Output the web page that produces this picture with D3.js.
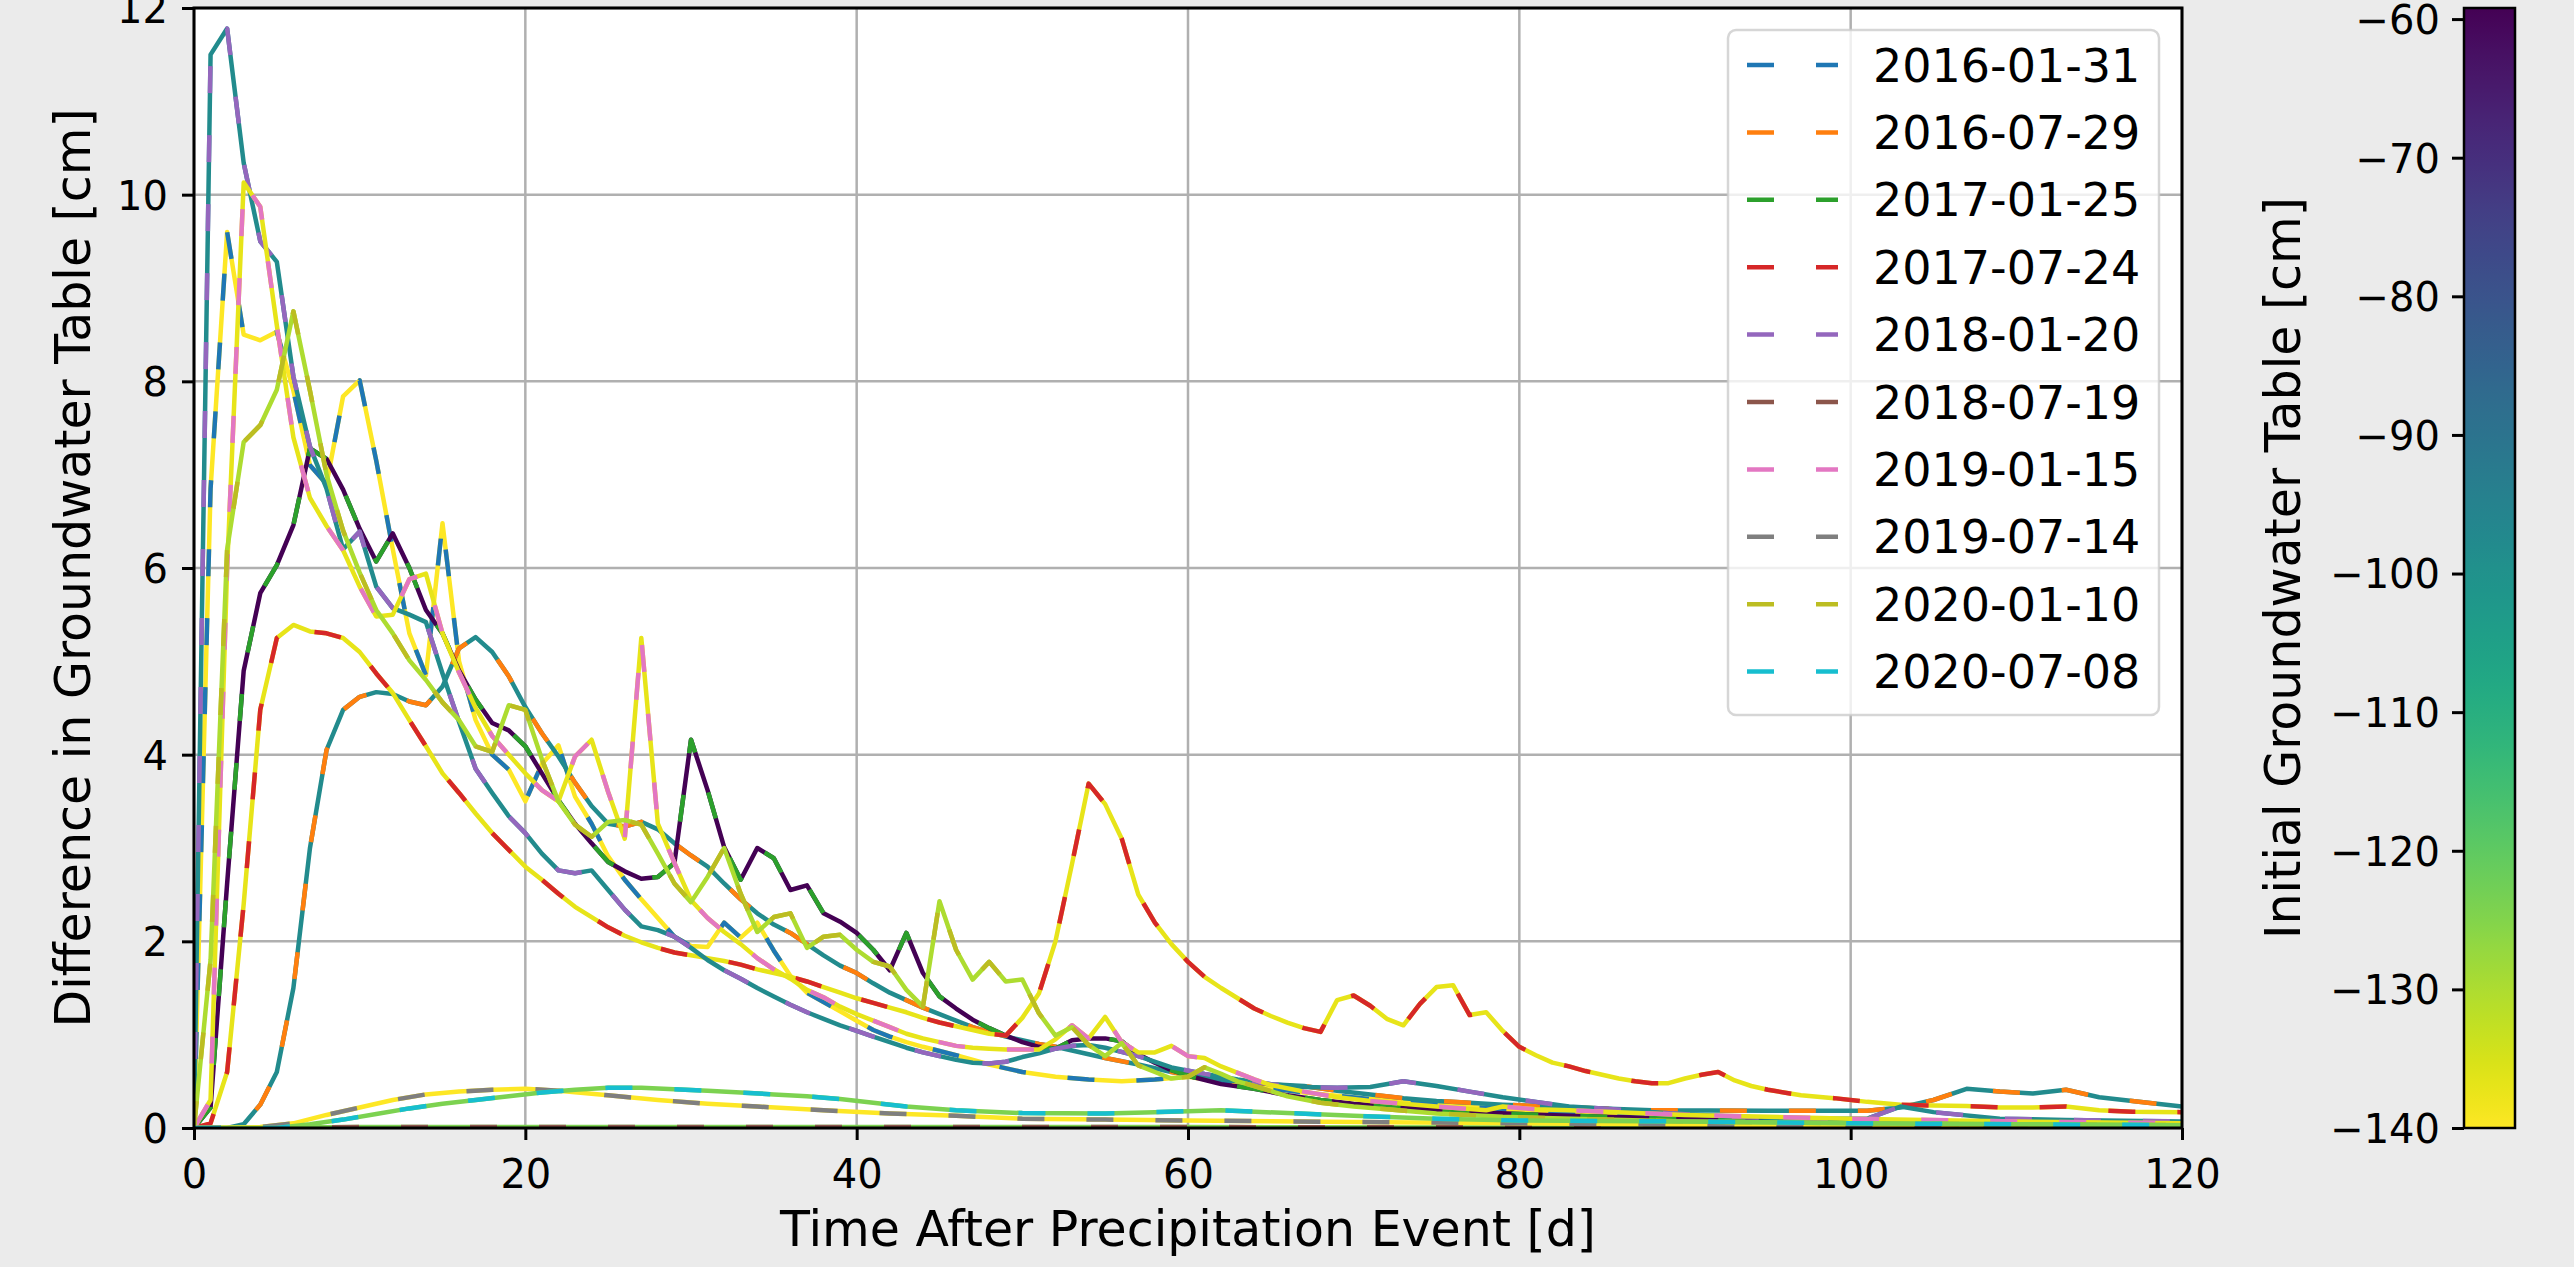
<!DOCTYPE html>
<html>
<head>
<meta charset="utf-8">
<script src="https://cdn.jsdelivr.net/npm/d3@7"></script>
<style>
  html, body { margin: 0; padding: 0; background: #ebebeb; }
  #chart { width: 2574px; height: 1267px; }
  text { font-family: "DejaVu Sans", sans-serif; fill: #000; }
</style>
</head>
<body>
<div id="chart"></div>
<script>
// event labels (legend) and the initial groundwater table of each event [cm]
const eventDates = ['2016-01-31', '2016-07-29', '2017-01-25', '2017-07-24', '2018-01-20',
                    '2018-07-19', '2019-01-15', '2019-07-14', '2020-01-10', '2020-07-08']
const initialTable = [-140, -98, -59.2, -137, -98, -124, -137, -140, -130, -124]

// [day, difference in groundwater table cm]
const ev20160131 = [[0,0],[1,6.85],[2,9.6],[3,8.5],[4,8.44],[5,8.53],[6,7.9],[7,7.1],[8,6.9],[9,7.84],[10,8.01],[11,7.15],[12,6.2],[13,5.3],[14,4.85],[15,6.48],[16,5.0],[17,4.37],[18,4.0],[19,3.84],[20,3.5],[21,3.9],[22,4.1],[23,3.55],[24,3.26],[25,2.91],[26,2.66],[27,2.45],[28,2.25],[29,2.05],[30,1.95],[31,1.94],[32,2.2],[33,2.04],[34,2.2],[35,1.9],[36,1.63],[37,1.45],[38,1.35],[39,1.25],[40,1.15],[41,1.05],[42,0.98],[43,0.92],[44,0.87],[46,0.78],[48,0.68],[50,0.6],[52,0.55],[54,0.52],[56,0.5],[58,0.52],[60,0.55],[63,0.47],[67,0.38],[71,0.31],[75,0.25],[80,0.19],[85,0.15],[90,0.12],[100,0.08],[110,0.06],[120,0.045]]
const ev20160729 = [[0,0],[1,0],[2,0],[3,0.04],[4,0.25],[5,0.6],[6,1.5],[7,3.0],[8,4.05],[9,4.48],[10,4.62],[11,4.67],[12,4.65],[13,4.57],[14,4.53],[15,4.73],[16,5.14],[17,5.26],[18,5.1],[19,4.84],[20,4.51],[21,4.23],[22,3.98],[23,3.7],[24,3.45],[25,3.26],[26,3.23],[27,3.28],[28,3.2],[29,3.05],[30,2.92],[31,2.8],[32,2.62],[33,2.45],[34,2.3],[35,2.18],[36,2.09],[37,1.97],[38,1.85],[39,1.74],[40,1.66],[41,1.55],[42,1.45],[43,1.37],[44,1.29],[45,1.22],[46,1.15],[47,1.08],[48,1.03],[49,0.98],[50,0.94],[51,0.9],[52,0.87],[53,0.83],[54,0.79],[55,0.75],[57,0.68],[59,0.6],[61,0.54],[63,0.5],[65,0.47],[67,0.45],[69,0.4],[71,0.36],[73,0.32],[75,0.29],[77,0.27],[79,0.25],[82,0.23],[85,0.21],[88,0.19],[95,0.185],[101,0.185],[103,0.22],[105,0.3],[107,0.42],[109,0.39],[111,0.37],[113,0.41],[115,0.33],[117,0.29],[120,0.23]]
const ev20170125 = [[0,0],[1,0.22],[2,2.62],[3,4.9],[4,5.73],[5,6.03],[6,6.46],[7,7.28],[8,7.17],[9,6.84],[10,6.42],[11,6.07],[12,6.37],[13,6.0],[14,5.55],[15,5.3],[16,4.9],[17,4.59],[18,4.34],[19,4.26],[20,4.09],[21,3.8],[22,3.51],[23,3.26],[24,3.05],[25,2.85],[26,2.75],[27,2.67],[28,2.69],[29,2.84],[30,4.16],[31,3.62],[32,3.01],[33,2.66],[34,3.0],[35,2.89],[36,2.55],[37,2.6],[38,2.3],[39,2.21],[40,2.09],[41,1.91],[42,1.69],[43,2.09],[44,1.66],[45,1.41],[46,1.28],[47,1.16],[48,1.07],[49,0.99],[50,0.92],[51,0.87],[52,0.85],[53,0.94],[54,0.96],[55,0.96],[56,0.93],[57,0.79],[58,0.7],[59,0.62],[60,0.56],[62,0.47],[64,0.42],[66,0.35],[68,0.3],[70,0.26],[73,0.22],[76,0.18],[80,0.15],[85,0.12],[90,0.1],[100,0.07],[110,0.05],[120,0.03]]
const ev20170724 = [[0,0],[1,0.05],[2,0.6],[3,2.4],[4,4.48],[5,5.25],[6,5.39],[7,5.32],[8,5.3],[9,5.25],[10,5.1],[11,4.87],[12,4.66],[13,4.37],[14,4.09],[15,3.8],[16,3.59],[17,3.37],[18,3.16],[19,2.98],[20,2.8],[21,2.66],[22,2.51],[23,2.37],[24,2.26],[25,2.15],[26,2.06],[27,1.99],[28,1.93],[29,1.88],[30,1.85],[31,1.82],[32,1.79],[33,1.75],[34,1.7],[35,1.66],[36,1.62],[37,1.57],[38,1.51],[39,1.45],[40,1.39],[41,1.34],[42,1.29],[43,1.24],[44,1.18],[45,1.13],[46,1.09],[47,1.05],[48,1.01],[49,0.99],[50,1.18],[51,1.44],[52,2.0],[53,2.83],[54,3.69],[55,3.47],[56,3.1],[57,2.5],[58,2.2],[59,1.97],[60,1.78],[61,1.62],[62,1.5],[63,1.39],[64,1.28],[65,1.2],[66,1.13],[67,1.07],[68,1.03],[69,1.37],[70,1.42],[71,1.31],[72,1.17],[73,1.1],[74,1.33],[75,1.51],[76,1.53],[77,1.21],[78,1.24],[79,1.04],[80,0.87],[81,0.78],[82,0.7],[83,0.66],[84,0.61],[85,0.57],[86,0.53],[87,0.5],[88,0.48],[89,0.48],[90,0.53],[91,0.57],[92,0.6],[93,0.51],[94,0.45],[95,0.41],[97,0.35],[99,0.32],[101,0.28],[103,0.25],[105,0.24],[107,0.236],[109,0.22],[111,0.22],[113,0.23],[115,0.19],[117,0.175],[120,0.17]]
const ev20180120 = [[0,0],[1,11.5],[2,11.78],[3,10.34],[4,9.5],[5,9.28],[6,8.05],[7,7.3],[8,6.85],[9,6.2],[10,6.39],[11,5.8],[12,5.57],[13,5.5],[14,5.42],[15,4.87],[16,4.35],[17,3.85],[18,3.59],[19,3.34],[20,3.16],[21,2.94],[22,2.76],[23,2.73],[24,2.76],[25,2.55],[26,2.34],[27,2.16],[28,2.12],[29,2.05],[30,1.93],[31,1.8],[32,1.69],[33,1.6],[34,1.5],[35,1.41],[36,1.32],[37,1.24],[38,1.17],[39,1.1],[40,1.04],[41,0.98],[42,0.92],[43,0.86],[44,0.81],[45,0.77],[46,0.73],[47,0.7],[48,0.69],[49,0.71],[50,0.76],[51,0.8],[52,0.85],[53,0.88],[54,0.89],[55,0.86],[57,0.77],[59,0.65],[61,0.58],[63,0.52],[65,0.47],[67,0.44],[69,0.43],[71,0.44],[73,0.5],[75,0.45],[77,0.39],[79,0.33],[81,0.28],[83,0.23],[85,0.21],[89,0.157],[93,0.12],[97,0.1],[101,0.1],[103,0.23],[105,0.17],[109,0.1],[113,0.086],[120,0.07]]
const ev20180719 = [[0,0],[10,0.01],[30,0.01],[60,0.01],[90,0.005],[120,0.005]]
const ev20190115 = [[0,0],[1,0.3],[2,6.0],[3,10.13],[4,9.87],[5,8.6],[6,7.4],[7,6.75],[8,6.45],[9,6.19],[10,5.8],[11,5.48],[12,5.5],[13,5.88],[14,5.94],[15,5.3],[16,4.88],[17,4.5],[18,4.2],[19,4.0],[20,3.8],[21,3.62],[22,3.5],[23,3.98],[24,4.16],[25,3.6],[26,3.1],[27,5.25],[28,3.26],[29,2.84],[30,2.44],[31,2.25],[32,2.1],[33,1.97],[34,1.82],[35,1.7],[36,1.6],[37,1.48],[38,1.4],[39,1.3],[40,1.22],[41,1.15],[42,1.08],[43,1.01],[44,0.96],[45,0.92],[46,0.88],[47,0.86],[48,0.85],[49,0.84],[50,0.84],[51,0.84],[52,0.95],[53,1.1],[54,0.96],[55,1.19],[56,0.92],[57,0.81],[58,0.81],[59,0.88],[60,0.77],[61,0.75],[62,0.66],[63,0.59],[64,0.52],[65,0.46],[67,0.39],[69,0.33],[71,0.29],[73,0.26],[75,0.23],[78,0.19],[79,0.23],[81,0.2],[83,0.19],[90,0.14],[100,0.1],[110,0.07],[120,0.05]]
const ev20190714 = [[0,0],[4,0.01],[6,0.05],[8,0.14],[10,0.22],[12,0.3],[14,0.36],[16,0.39],[18,0.41],[20,0.42],[22,0.4],[25,0.35],[28,0.3],[31,0.26],[34,0.23],[38,0.19],[42,0.155],[46,0.13],[50,0.1],[55,0.09],[60,0.08],[70,0.065],[80,0.05],[90,0.035],[100,0.03],[110,0.025],[120,0.02]]
const ev20200110 = [[0,0],[1,1.8],[2,6.2],[3,7.35],[4,7.53],[5,7.91],[6,8.75],[7,7.9],[8,7.0],[9,6.4],[10,5.95],[11,5.55],[12,5.3],[13,5.01],[14,4.8],[15,4.56],[16,4.37],[17,4.09],[18,4.03],[19,4.53],[20,4.48],[21,3.95],[22,3.5],[23,3.25],[24,3.12],[25,3.28],[26,3.3],[27,3.25],[28,2.94],[29,2.62],[30,2.42],[31,2.69],[32,3.0],[33,2.51],[34,2.1],[35,2.26],[36,2.3],[37,1.93],[38,2.05],[39,2.07],[40,1.91],[41,1.78],[42,1.73],[43,1.48],[44,1.3],[45,2.43],[46,1.91],[47,1.59],[48,1.78],[49,1.57],[50,1.59],[51,1.23],[52,0.99],[53,1.08],[54,0.89],[55,0.77],[56,0.91],[57,0.67],[58,0.6],[59,0.53],[60,0.55],[61,0.65],[62,0.58],[63,0.5],[64,0.45],[66,0.34],[68,0.27],[70,0.23],[72,0.2],[75,0.156],[79,0.12],[85,0.09],[90,0.07],[100,0.05],[110,0.04],[120,0.03]]
const ev20200708 = [[0,0],[5,0],[7,0.04],[9,0.09],[11,0.15],[13,0.21],[15,0.26],[17,0.3],[19,0.34],[21,0.38],[23,0.41],[25,0.43],[27,0.43],[29,0.415],[31,0.4],[33,0.38],[35,0.36],[37,0.34],[39,0.31],[41,0.27],[43,0.23],[46,0.19],[50,0.16],[55,0.155],[58,0.17],[62,0.19],[66,0.16],[70,0.13],[75,0.1],[80,0.08],[90,0.07],[100,0.05],[110,0.04],[120,0.03]]

const events = [ev20160131, ev20160729, ev20170125, ev20170724, ev20180120,
                ev20180719, ev20190115, ev20190714, ev20200110, ev20200708]

const xTicks = [0, 20, 40, 60, 80, 100, 120]
const yTicks = [0, 2, 4, 6, 8, 10, 12]
const cbarTicks = [-60, -70, -80, -90, -100, -110, -120, -130, -140]

const W = 2574, H = 1267
const plot = { left: 194, right: 2182, top: 8, bottom: 1128 }
const cbarBox = { left: 2464, right: 2515 }
const dash = '27,42'
const minus = s => String(s).replace('-', '\u2212')

const svg = d3.select('#chart').append('svg')
    .attr('width', W)
    .attr('height', H)

svg.append('rect').attr('width', W).attr('height', H).attr('fill', '#ebebeb')

const x = d3.scaleLinear().domain([0, 120]).range([plot.left, plot.right])
const y = d3.scaleLinear().domain([0, 12]).range([plot.bottom, plot.top])
const cbarScale = d3.scaleLinear().domain([-140, -59.2]).range([plot.bottom, plot.top])
const tableColor = v => d3.interpolateViridis((-59.2 - v) / 80.8)
const dateColor = d3.scaleOrdinal().domain(eventDates).range(d3.schemeCategory10)

//axes background
svg.append('rect')
    .attr('x', plot.left).attr('y', plot.top)
    .attr('width', plot.right - plot.left).attr('height', plot.bottom - plot.top)
    .attr('fill', '#fff')

//grid
const grid = svg.append('g').attr('stroke', '#b0b0b0').attr('stroke-width', 2.5)
grid.selectAll('.gx').data(xTicks).join('line')
    .attr('x1', d => x(d)).attr('x2', d => x(d))
    .attr('y1', plot.top).attr('y2', plot.bottom)
grid.selectAll('.gy').data(yTicks).join('line')
    .attr('y1', d => y(d)).attr('y2', d => y(d))
    .attr('x1', plot.left).attr('x2', plot.right)

//clip the lines to the axes
svg.append('clipPath').attr('id', 'clip')
    .append('rect')
    .attr('x', plot.left).attr('y', plot.top)
    .attr('width', plot.right - plot.left).attr('height', plot.bottom - plot.top)

const line = d3.line().x(d => x(d[0])).y(d => y(d[1]))
const lines = svg.append('g').attr('clip-path', 'url(#clip)')
    .attr('fill', 'none')
    .attr('stroke-width', 4.5)
    .attr('stroke-linejoin', 'round')

events.forEach((ev, i) => {
    //solid line coloured by initial groundwater table
    lines.append('path')
        .attr('d', line(ev))
        .attr('stroke', tableColor(initialTable[i]))
    //dashed overlay coloured by event
    lines.append('path')
        .attr('d', line(ev))
        .attr('stroke', dateColor(eventDates[i]))
        .attr('stroke-dasharray', dash)
})

//axes with matplotlib look
const xAxis = svg.append('g')
    .attr('transform', `translate(0,${plot.bottom})`)
    .call(d3.axisBottom(x).tickValues(xTicks).tickSize(12).tickPadding(20))
const yAxis = svg.append('g')
    .attr('transform', `translate(${plot.left},0)`)
    .call(d3.axisLeft(y).tickValues(yTicks).tickSize(12).tickPadding(14))

;[xAxis, yAxis].forEach(a => {
    a.select('.domain').remove()
    a.selectAll('.tick line').attr('stroke', '#000').attr('stroke-width', 3)
    a.selectAll('.tick text').attr('font-size', 40).attr('font-family', '"DejaVu Sans", sans-serif')
})
xAxis.selectAll('.tick text').attr('dy', '0.71em')
yAxis.selectAll('.tick text').attr('dy', '0.36em')

//spines
svg.append('rect')
    .attr('x', plot.left).attr('y', plot.top)
    .attr('width', plot.right - plot.left).attr('height', plot.bottom - plot.top)
    .attr('fill', 'none').attr('stroke', '#000').attr('stroke-width', 3)

svg.append('text')
    .attr('x', (plot.left + plot.right) / 2).attr('y', 1246)
    .attr('text-anchor', 'middle').attr('font-size', 49)
    .text('Time After Precipitation Event [d]')

svg.append('text')
    .attr('transform', `translate(90,${(plot.top + plot.bottom) / 2}) rotate(-90)`)
    .attr('text-anchor', 'middle').attr('font-size', 49)
    .text('Difference in Groundwater Table [cm]')

//legend
const legend = svg.append('g')
legend.append('rect')
    .attr('x', 1728).attr('y', 30).attr('width', 431).attr('height', 685)
    .attr('rx', 8)
    .attr('fill', '#fff').attr('fill-opacity', 0.8)
    .attr('stroke', '#cccccc').attr('stroke-opacity', 0.8).attr('stroke-width', 2.5)

const rows = legend.selectAll('.row').data(eventDates).join('g')
    .attr('transform', (d, i) => `translate(0,${65 + i * 67.4})`)
rows.append('line')
    .attr('x1', 1747).attr('x2', 1838)
    .attr('stroke', d => dateColor(d)).attr('stroke-width', 4.5)
    .attr('stroke-dasharray', dash)
rows.append('text')
    .attr('x', 1873).attr('dy', '0.36em')
    .attr('font-size', 46)
    .text(d => d)

//colorbar
const defs = svg.append('defs')
const grad = defs.append('linearGradient').attr('id', 'viridis')
    .attr('x1', 0).attr('y1', 0).attr('x2', 0).attr('y2', 1)
d3.range(0, 1.0001, 0.02).forEach(t => {
    grad.append('stop').attr('offset', t).attr('stop-color', d3.interpolateViridis(t))
})
svg.append('rect')
    .attr('x', cbarBox.left).attr('y', plot.top)
    .attr('width', cbarBox.right - cbarBox.left).attr('height', plot.bottom - plot.top)
    .attr('fill', 'url(#viridis)')
    .attr('stroke', '#000').attr('stroke-width', 2.5)

const cAxis = svg.append('g')
    .attr('transform', `translate(${cbarBox.left},0)`)
    .call(d3.axisLeft(cbarScale).tickValues(cbarTicks).tickSize(12).tickPadding(12).tickFormat(minus))
cAxis.select('.domain').remove()
cAxis.selectAll('.tick line').attr('stroke', '#000').attr('stroke-width', 3)
cAxis.selectAll('.tick text').attr('font-size', 40).attr('dy', '0.36em')
    .attr('font-family', '"DejaVu Sans", sans-serif')

svg.append('text')
    .attr('transform', `translate(2300,${(plot.top + plot.bottom) / 2}) rotate(-90)`)
    .attr('text-anchor', 'middle').attr('font-size', 49)
    .text('Initial Groundwater Table [cm]')
</script>
</body>
</html>
